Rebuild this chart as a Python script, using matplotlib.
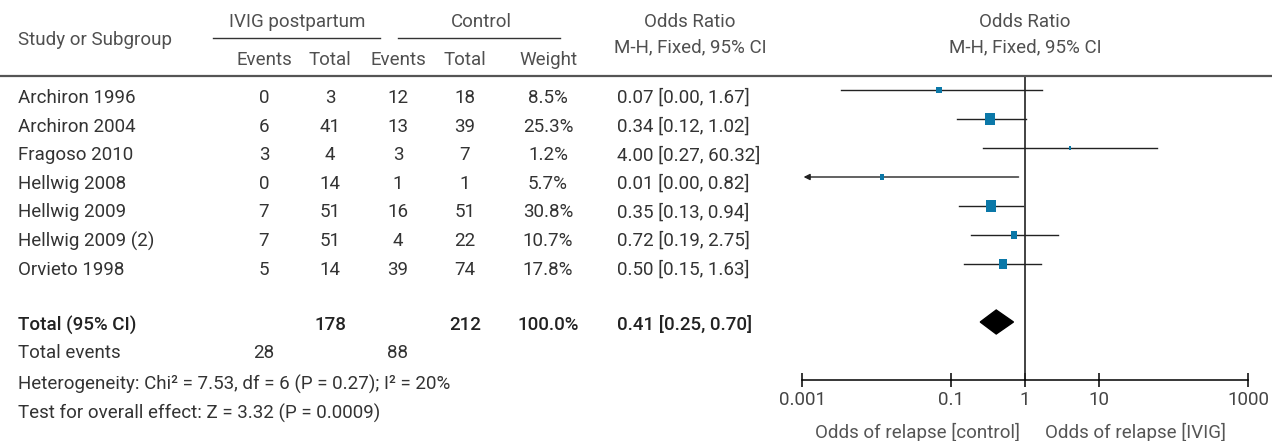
import matplotlib
matplotlib.use("Agg")
import matplotlib.pyplot as plt
from matplotlib.lines import Line2D
import numpy as np

plt.rcParams['font.family'] = ['Roboto', 'DejaVu Sans']

#%% data
studies = ["Archiron 1996", "Archiron 2004", "Fragoso 2010", "Hellwig 2008",
           "Hellwig 2009", "Hellwig 2009 (2)", "Orvieto 1998"]
ivig_events = [0, 6, 3, 0, 7, 7, 5]
ivig_total = [3, 41, 4, 14, 51, 51, 14]
ctrl_events = [12, 13, 3, 1, 16, 4, 39]
ctrl_total = [18, 39, 7, 1, 51, 22, 74]
weights = [8.5, 25.3, 1.2, 5.7, 30.8, 10.7, 17.8]
or_est = [0.07, 0.34, 4.00, 0.012, 0.35, 0.72, 0.50]
or_lo = [0.0033, 0.12, 0.27, 0.0003, 0.13, 0.19, 0.15]
or_hi = [1.67, 1.02, 60.32, 0.82, 0.94, 2.75, 1.63]
or_text = ["0.07 [0.00, 1.67]", "0.34 [0.12, 1.02]", "4.00 [0.27, 60.32]",
           "0.01 [0.00, 0.82]", "0.35 [0.13, 0.94]", "0.72 [0.19, 2.75]",
           "0.50 [0.15, 1.63]"]
total_or = (0.41, 0.25, 0.70)
total_or_text = "0.41 [0.25, 0.70]"
total_n = (178, 212)
total_events = (28, 88)
tick_vals = [0.001, 0.1, 1, 10, 1000]
tick_labels = ["0.001", "0.1", "1", "10", "1000"]

#%% layout
W, H = 1272, 441
fig = plt.figure(figsize=(W / 100, H / 100), dpi=100)
FS = 13.5
TXT = "#333333"
HDR = "#505050"
BLUE = "#0b78a8"

def tx(x, y, s, ha="left", color=TXT, weight="normal", **kw):
    fig.text(x / W, 1 - y / H, s, ha=ha, va="center", color=color, fontsize=FS,
             fontweight=weight, **kw)

def hline(x0, x1, y, lw=1.0, color="#333333"):
    fig.add_artist(Line2D([x0 / W, x1 / W], [1 - y / H, 1 - y / H], lw=lw, color=color))

# column positions (pixels)
c_ev1, c_tot1, c_ev2, c_tot2, c_w, c_or = 264, 330, 398, 465, 548, 617

# headers
tx(18, 40, "Study or Subgroup", color=HDR)
tx(297, 22, "IVIG postpartum", ha="center", color=HDR)
tx(481, 22, "Control", ha="center", color=HDR)
hline(213, 380, 38)
hline(398, 560, 38)
for x, s in zip([c_ev1, c_tot1, c_ev2, c_tot2, c_w],
                ["Events", "Total", "Events", "Total", "Weight"]):
    tx(x, 60, s, ha="center", color=HDR)
tx(690, 22, "Odds Ratio", ha="center", color=HDR)
tx(690, 47, "M-H, Fixed, 95% CI", ha="center", color=HDR)
tx(1025, 22, "Odds Ratio", ha="center", color=HDR)
tx(1025, 47, "M-H, Fixed, 95% CI", ha="center", color=HDR)
hline(0, W, 76, lw=1.6, color="#555555")

# study rows
for i, name in enumerate(studies):
    y = 98 + 28.6 * i
    tx(18, y, name)
    tx(c_ev1, y, str(ivig_events[i]), ha="center")
    tx(c_tot1, y, str(ivig_total[i]), ha="center")
    tx(c_ev2, y, str(ctrl_events[i]), ha="center")
    tx(c_tot2, y, str(ctrl_total[i]), ha="center")
    tx(c_w, y, f"{weights[i]:.1f}%", ha="center")
    tx(c_or, y, or_text[i])

# totals
DK = "#222222"
tx(18, 325, "Total (95% CI)", color=DK, weight="medium")
tx(c_tot1, 325, str(total_n[0]), ha="center", color=DK, weight="medium")
tx(c_tot2, 325, str(total_n[1]), ha="center", color=DK, weight="medium")
tx(c_w, 325, f"{sum(weights):.1f}%", ha="center", color=DK, weight="medium")
tx(c_or, 325, total_or_text, color=DK, weight="medium")
tx(18, 353, "Total events")
tx(c_ev1, 353, str(total_events[0]), ha="center")
tx(c_ev2, 353, str(total_events[1]), ha="center")
tx(18, 384, "Heterogeneity: Chi² = 7.53, df = 6 (P = 0.27); I² = 20%")
tx(18, 413, "Test for overall effect: Z = 3.32 (P = 0.0009)")

#%% forest plot axes
x0, x1, ytop, ybot = 802, 1248, 76, 380
ax = fig.add_axes([x0 / W, 1 - ybot / H, (x1 - x0) / W, (ybot - ytop) / H])
ax.set_xscale("log")
xmin, xmax = 0.001, 1000
ax.set_xlim(xmin, xmax)
row_step = 29
ax.set_ylim((ybot - 90) / row_step, (ytop - 90) / row_step)
for s in ["top", "left", "right"]:
    ax.spines[s].set_visible(False)
ax.spines["bottom"].set_linewidth(1.1)
ax.set_yticks([])
ax.set_xticks(tick_vals)
ax.set_xticklabels(tick_labels)
ax.xaxis.set_minor_locator(matplotlib.ticker.NullLocator())
ax.tick_params(axis="x", direction="inout", length=10, width=1.1, pad=3,
               labelsize=FS, labelcolor="#444444")
ax.patch.set_alpha(0)

ax.axvline(1, color="#222222", lw=1.2)

verts = [(-1, -1.25), (1, -1.25), (1, 1.25), (-1, 1.25)]
for i in range(len(studies)):
    lo = max(or_lo[i], xmin)
    hi = min(or_hi[i], xmax)
    if or_lo[i] < xmin:
        ax.annotate("", xy=(xmin * 1.05, i), xytext=(hi, i),
                    arrowprops=dict(arrowstyle="-|>", color="#222222", lw=1,
                                    mutation_scale=9, shrinkA=0, shrinkB=0))
    else:
        ax.plot([lo, hi], [i, i], color="#222222", lw=1)
    ax.scatter(or_est[i], i, marker=verts, s=max(2.7 * weights[i], 6),
               color=BLUE, zorder=3, linewidths=0)

# pooled diamond
yt = (322 - 90) / row_step
h = 12 / row_step
est, lo, hi = total_or
ax.fill([lo, est, hi, est], [yt, yt - h, yt, yt + h], color="black", zorder=3)

tx(1020, 432, "Odds of relapse [control]", ha="right", color="#555555")
tx(1045, 432, "Odds of relapse [IVIG]", color="#555555")

fig.savefig("out.png", dpi=100)
